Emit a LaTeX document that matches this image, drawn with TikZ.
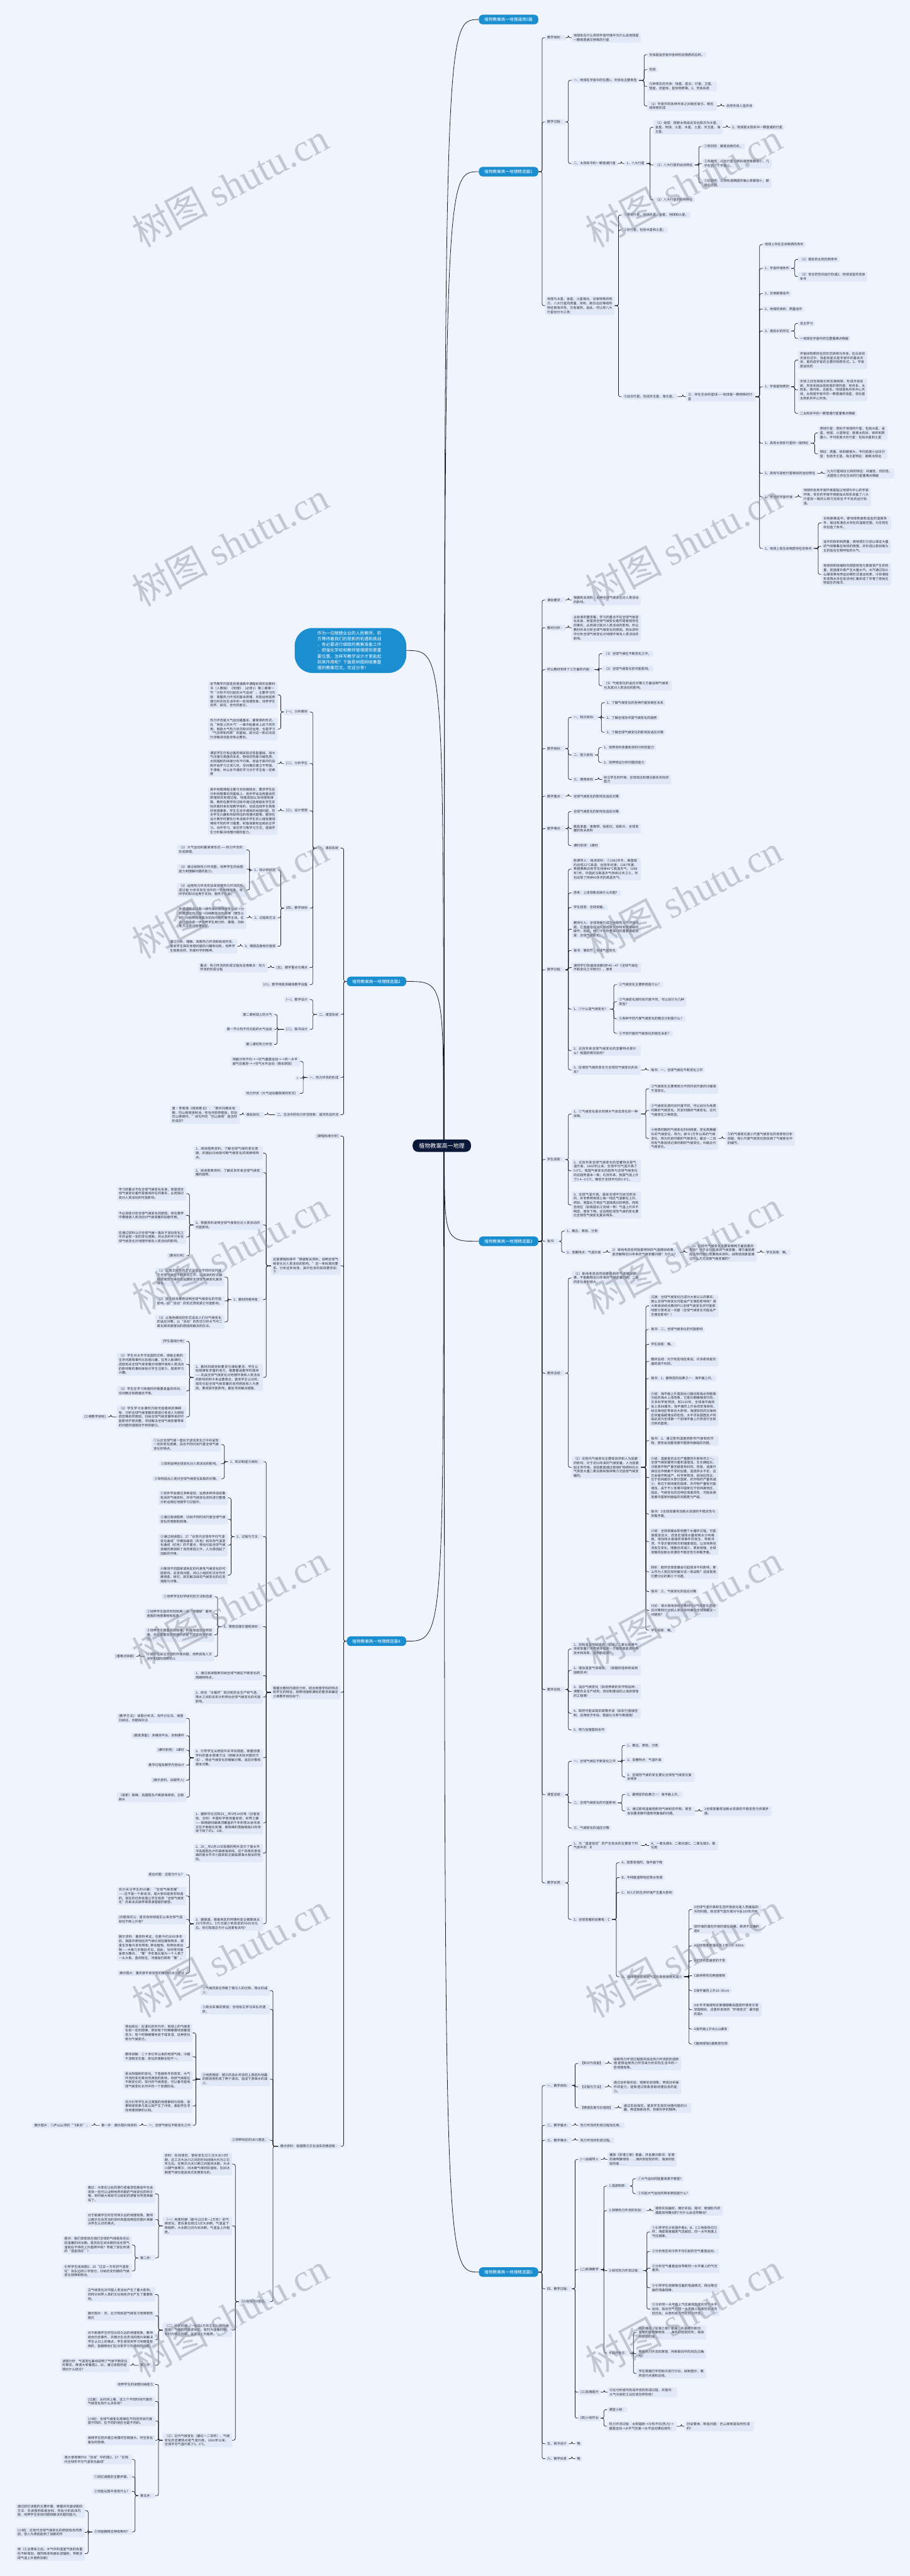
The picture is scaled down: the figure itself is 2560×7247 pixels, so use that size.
\documentclass[tikz,border=0pt]{standalone}
\usepackage{fontspec}
\setmainfont{Noto Sans CJK SC}
\newfontfamily\wmserif{Liberation Serif}
\XeTeXlinebreaklocale "zh"
\XeTeXlinebreakskip=0pt plus 1pt
\pgfdeclarelayer{bg}
\pgfsetlayers{bg,main}
\definecolor{pagebg}{RGB}{239,244,253}
\definecolor{boxbg}{RGB}{225,233,248}
\definecolor{txt}{RGB}{45,45,50}
\definecolor{lineC}{RGB}{28,28,40}
\definecolor{blueN}{RGB}{27,142,208}
\definecolor{navy}{RGB}{12,24,56}
\definecolor{wmc}{RGB}{140,145,156}
\tikzset{
  nb/.style={fill=boxbg, rounded corners=3pt, text=txt, font=\fontsize{9.1}{12}\selectfont, inner xsep=5.5pt, inner ysep=3.6pt, align=left},
  nw/.style={nb, text width=184pt},
  conn/.style={draw=lineC, line width=1.3pt, rounded corners=5pt},
  curve/.style={draw=lineC, line width=1.4pt},
  lone/.style={fill=blueN, text=white, rounded corners=11pt, font=\fontsize{11.7}{14}\selectfont, inner xsep=16pt, inner ysep=8pt},
  hub/.style={fill=navy, text=white, rounded corners=15pt, font=\fontsize{16}{18}\selectfont, inner xsep=18pt, inner ysep=10pt},
  intro/.style={fill=blueN, text=white, rounded corners=50pt, font=\fontsize{12}{16.2}\selectfont, text width=186pt, align=left, inner xsep=64pt, inner ysep=9pt},
  wm/.style={text=wmc, opacity=0.45, rotate=28, font=\fontsize{108}{112}\selectfont}
}
\makeatletter
\newcommand\conns{}
\newcommand\addconn[1]{\g@addto@macro\conns{#1}}
\makeatother
\newcommand\qR[5]{%
  \node[nb,anchor=west] (#1) at (#3,-#4) {#5};%
  \addconn{\path (#1.west) ++(-9,0) coordinate (sp); \draw[conn] (#2.east) -- (sp |- #2.east) |- (#1.west);}}
\newcommand\qRw[5]{%
  \node[nw,anchor=west] (#1) at (#3,-#4) {#5};%
  \addconn{\path (#1.west) ++(-9,0) coordinate (sp); \draw[conn] (#2.east) -- (sp |- #2.east) |- (#1.west);}}
\newcommand\qL[5]{%
  \node[nb,anchor=east] (#1) at (#3,-#4) {#5};%
  \addconn{\path (#1.east) ++(9,0) coordinate (sp); \draw[conn] (#2.west) -- (sp |- #2.west) |- (#1.east);}}
\newcommand\qLw[5]{%
  \node[nw,anchor=east] (#1) at (#3,-#4) {#5};%
  \addconn{\path (#1.east) ++(9,0) coordinate (sp); \draw[conn] (#2.west) -- (sp |- #2.west) |- (#1.east);}}
\begin{document}
\begin{tikzpicture}[x=1pt,y=1pt]
\useasboundingbox (0,0) rectangle (2560,-7247);
% hub and first level
\node[hub] (C) at (1243,-3223) {植物教案高一地理};
\node[lone,anchor=west] (T0) at (1347,-55) {植物教案高一地理通用5篇};
\node[lone,anchor=west] (T1) at (1347,-483) {植物教案高一地理精选篇1};
\node[lone,anchor=west] (T3) at (1347,-3492) {植物教案高一地理精选篇3};
\node[lone,anchor=west] (T5) at (1347,-6392) {植物教案高一地理精选篇5};
\node[lone,anchor=east] (T2) at (1143,-2761) {植物教案高一地理精选篇2};
\node[lone,anchor=east] (T4) at (1143,-4617) {植物教案高一地理精选篇4};
\node[intro] (I) at (986,-1830) {作为一位兢兢业业的人民教师，前\\方等待着我们的是新的机遇和挑战\\，有必要进行细致的教案准备工作\\，把强化学校和教师管理提到更重\\要位置。怎样写教学设计才更能起\\到其作用呢？下面是树图网收集整\\理的教案范文。欢迎分享！};
% ===== branch 1 =====
\qR{a1}{T1}{1534}{106}{教学目标：}
\qRw{a1a}{a1}{1608}{106}{地球处在什么样的宇宙环境中为什么说地球是一颗既普通又特殊的行星}
\qR{a2}{T1}{1534}{343}{教学过程：}
\qR{a2a}{a2}{1608}{226}{一、地球在宇宙中的位置1、天体及主要类型}
\qR{a2a1}{a2a}{1821}{154}{天体是指宇宙中各种形态物质的总称。}
\qR{a2a2}{a2a}{1821}{196}{包括}
\qRw{a2a3}{a2a}{1821}{243}{几种常见的天体：恒星、星云、行星、卫星、彗星、流星体、星际物质等。2、天体系统}
\qRw{a2a4}{a2a}{1821}{298}{（1）宇宙中的各种天体之间相互吸引、相互绕转而形成}
\qR{a2a4a}{a2a4}{2038}{298}{自然天体人造天体}
\qR{a2b}{a2}{1608}{460}{二、太阳系中的一颗普通行星}
\qR{a2b1}{a2b}{1757}{460}{1、八大行星}
\qRw{a2b1a}{a2b1}{1838}{358}{（1）组成：按距太阳由近及远依次为水星、金星、地球、火星、木星、土星、天王星、海王星。}
\qR{a2b1a1}{a2b1a}{2054}{358}{2、地球是太阳系中一颗普通的行星}
\qR{a2b1b}{a2b1}{1838}{464}{（1）八大行星的运动特征}
\qR{a2b1b1}{a2b1b}{1975}{412}{①同向性：都是自西向东。}
\qRw{a2b1b2}{a2b1b}{1975}{460}{②共面性：八大行星公转轨道倾角都很小，几乎在同一个平面上。}
\qRw{a2b1b3}{a2b1b}{1975}{515}{③近圆性：公转轨道椭圆的偏心率都很小，都接近正圆。}
\qR{a2b1c}{a2b1}{1838}{562}{（2）八大行星的结构特征}
\qRw{a3}{T1}{1534}{860}{地球与水星、金星、火星相比，没有特殊的地方。八大行星的质量、体积、距日远近等结构特征既有共性，又有差异。由此，可以将八大行星划分为三类：}
\qR{a31}{a3}{1749}{605}{①类地行星，包括水星、金星、地球和火星；}
\qR{a32}{a3}{1749}{647}{②巨行星，包括木星和土星；}
\qR{a33}{a3}{1749}{1116}{③远日行星，包括天王星、海王星。}
\qRw{a4}{a33}{1930}{1116}{三、存在生命的星球——地球是一颗特殊的行星}
\qR{a41}{a4}{2146}{688}{地球上存在生命物质的条件}
\qR{a42}{a4}{2146}{755}{1、宇宙环境条件}
\qR{a421}{a42}{2245}{730}{（1）稳定的太阳光照条件}
\qRw{a422}{a42}{2245}{778}{（2）安全的空间运行轨道2、地球适宜的自身条件}
\qR{a43}{a4}{2146}{826}{1、日地距离适中}
\qR{a44}{a4}{2146}{869}{2、地球的体积、质量适中}
\qR{a45}{a4}{2146}{931}{3、液态水的存在}
\qR{a451}{a45}{2245}{910}{自主学习}
\qR{a452}{a45}{2245}{952}{一地球在宇宙中的位置重难点释疑}
\qR{a46}{a4}{2146}{1088}{1、宇宙是物质的}
\qRw{a461}{a46}{2245}{1013}{宇宙间物质存在的形式统称为天体。在众多的天体形式中，恒星和星云是宇宙中的基本天体，是构成宇宙的主要的物质形式。2、宇宙是运动的}
\qRw{a462}{a46}{2245}{1097}{天体之间互相吸引和互相绕转，形成天体系统。天体系统由低到高的排列是：地月系、太阳系、银河系、总星系。地球是地月系中心天体、太阳是宇宙中的一颗普通的恒星，但也是太阳系的中心天体。}
\qR{a463}{a46}{2245}{1163}{二太阳系中的一颗普通行星重难点释疑}
\qR{a47}{a4}{2146}{1247}{1、具有太阳系行星的一般特征}
\qRw{a471}{a47}{2301}{1218}{类地行星：类似于地球的行星，包括水星、金星、地球、火星特征：距离太阳近、体积和质量小、平均密度大巨行星：包括木星和土星}
\qRw{a472}{a47}{2301}{1277}{特征：质量、体积都很大，平均密度小远日行星：包括天王星、海王星特征：距离太阳远}
\qR{a48}{a4}{2146}{1332}{2、具有与其他行星相似的运动特征}
\qRw{a481}{a48}{2321}{1332}{九大行星绕日公转的特征：共面性、同向性、近圆性三存在生命的行星重难点释疑}
\qR{a49}{a4}{2146}{1398}{1、安全的宇宙环境}
\qRw{a491}{a49}{2255}{1398}{地球所处地宇宙环境是指以地球为中心的宇宙环境，安全的宇宙环境是指太阳系具备了八大行星有一致的公转方向和互不干扰的运行轨道。}
\qR{a4a}{a4}{2146}{1543}{2、地球上有生命物质存在的条件}
\qRw{a4a1}{a4a}{2311}{1471}{日地距离适中，使地球表面有适宜的温度条件，保证有液态水存在的温度范围，为生物生存创造了条件。}
\qRw{a4a2}{a4a}{2311}{1537}{适中的体积和质量，使地球引力足以保证大量的气体聚集在地球的周围，并形成以氮和氧为主的适合生物呼吸的大气。}
\qRw{a4a3}{a4a}{2311}{1616}{地球体积收缩和内部放射性元素衰变产生的热量，因温度升高产生大量水汽，水汽通过如火山爆发等地壳运动等形式逸出地表，冷却凝结形成降水并在低洼地汇集形成了孕育了原始生物诞生的海洋。}
% ===== branch 3 =====
\qR{b1}{T3}{1534}{1688}{课标要求：}
\qRw{b11}{b1}{1608}{1688}{根据有关资料，说明全球气候变化对人类活动的影响。}
\qR{b2}{T3}{1534}{1766}{教材分析：}
\qRw{b21}{b2}{1608}{1766}{从标准的要求看，学习的重点不在全球气候变化本身，而是把全球气候变化看作是客观存在的事实，从而探讨其对人类活动的影响。所以教材并未分析全球气候变化的原因，而从资料中分析全球气候变化对地理环境及人类活动的影响。}
\qR{b3}{T3}{1534}{1884}{所以教材安排了三方面的内容：}
\qR{b31}{b3}{1694}{1839}{（1）全球气候在不断变化之中。}
\qR{b32}{b3}{1694}{1881}{（2）全球气候变化的可能影响。}
\qRw{b33}{b3}{1694}{1929}{（3）气候变化的适应对策三方面说明气候变化及其对人类活动的影响。}
\qR{b4}{T3}{1534}{2106}{教学目标：}
\qR{b41}{b4}{1608}{2018}{一、知识目标：}
\qR{b411}{b41}{1701}{1977}{1、了解气候变化的各种尺度及相互关系}
\qR{b412}{b41}{1701}{2019}{2、了解全球及中国气候变化的趋势}
\qR{b413}{b41}{1701}{2060}{3、了解全球气候变化的影响及适应对策}
\qR{b42}{b4}{1608}{2124}{二、能力目标}
\qR{b421}{b42}{1693}{2103}{1、培养资料收集和资料分析的能力}
\qR{b422}{b42}{1693}{2145}{2、培养辨证分析问题的能力}
\qR{b43}{b4}{1608}{2193}{三、德育目标}
\qRw{b431}{b43}{1693}{2193}{树立学生的环境、全球观念和理论联系实际的能力}
\qR{b5}{T3}{1534}{2240}{教学重点：}
\qR{b51}{b5}{1608}{2240}{全球气候变化的影响及适应对策}
\qR{b6}{T3}{1534}{2331}{教学难点：}
\qR{b61}{b6}{1608}{2283}{全球气候变化的影响及适应对策}
\qRw{b62}{b6}{1608}{2331}{教具准备：录像带、投影仪、投影片、全球变暖的有关资料}
\qR{b63}{b6}{1608}{2379}{课时安排：1课时}
\qR{b7}{T3}{1534}{2728}{教学过程：}
\qRw{b71}{b7}{1608}{2445}{新课导入：阅读资料：①1982年冬，美国纽约出现22℃高温，创百年纪录；1987年夏，希腊雅典出现罕见持续46℃高温天气；1988年7月，中国武汉高温天气持续25天之久，年也出现了持续40多天的高温天气。}
\qR{b72}{b7}{1608}{2512}{思考：上述现象反映什么问题？}
\qR{b73}{b7}{1608}{2553}{学生回答：全球变暖。}
\qRw{b74}{b7}{1608}{2614}{教师引入：全球变暖已成为全球性大气环境问题，它直接造成对人类社会生存和发展基础的破坏。因此，我们今天所要探讨的重要课题就是：全球气候变化。}
\qR{b75}{b7}{1608}{2674}{板书：第四节：全球气候变化}
\qRw{b76}{b7}{1608}{2722}{请同学们快速阅读教材P46—47《全球气候在不断变化之中部分》，思考}
\qR{b77}{b7}{1608}{2839}{1、①什么是气候变化？}
\qR{b771}{b77}{1736}{2770}{②气候变化主要表现是什么？}
\qRw{b772}{b77}{1736}{2818}{③气候变化按时间尺度不同，可以划分为几种类型？}
\qR{b773}{b77}{1736}{2866}{④各种不同尺度气候变化的概念分别是什么？}
\qR{b774}{b77}{1736}{2907}{⑤不同尺度的气候变化的相互关系？}
\qRw{b78}{b7}{1608}{2956}{2、近百年来全球气候变化的显著特点是什么？我国的情况如何？}
\qRw{b79}{b7}{1608}{3010}{3、区域性气候的变化与全球性气候变化的关系？}
\qR{b791}{b79}{1826}{3010}{板书：一、全球气候在不断变化之中}
\qR{b8}{T3}{1534}{3262}{学生回答：}
\qRw{b81}{b8}{1608}{3134}{1、①气候变化是长时期大气状态变化的一种反映。}
\qRw{b811}{b81}{1826}{3063}{②气候变化主要表现为不同时间尺度的冷暖或干湿变化。}
\qRw{b812}{b81}{1826}{3124}{③气候变化按时间尺度不同，可以划分为地质时期的气候变化、历史时期的气候变化、近代气候变化三种类型。}
\qRw{b813}{b81}{1826}{3203}{④地质时期的气候变化时间跨度，变化周期最长的气候变化，称为；距今1万年以来的气候变化，称为历史时期的气候变化；最近一二百年有气象观测记录时期的气候变化，叫做近代气候变化。}
\qRw{b8131}{b813}{2041}{3203}{⑤的气候变化是小尺度气候变化的背景和分析依据，而小尺度气候变化则反映了气候变化中的细节。}
\qRw{b82}{b8}{1608}{3294}{2、近百年来全球气候变化的显著特点是气温升高，1860年以来，全球平均气温升高了0.6℃。我国气候变化的趋势与全球气候变化的总趋势基本一致；近百年来，我国气温上升了0.4—0.5℃，略低于全球平均的0.6℃。}
\qRw{b83}{b8}{1608}{3390}{3、全球气温升高，是就全球平均状况而言的，并非表明地球上每一地区气温都在上升。例如，我国北方地区气温增高比较明显，而有些地区（如我国长江流域一带）气温上升并不明显，甚至下降。这说明区域性气候的变化要比全球性气候变化复杂得多。}
\qR{b9}{T3}{1534}{3492}{板书：}
\qR{b91}{b9}{1589}{3463}{1、概念、表现、分类}
\qR{b92}{b9}{1589}{3523}{2、显著特点：气温升高}
\qRw{b921}{b92}{1717}{3523}{1）单纯考虑自然因素得到的气温模拟结果，能否解释近50年来的气候变暖问题？为什么？}
\qRw{b922}{b921}{1934}{3523}{（2）近现代气候变化主要受哪两方面因素的影响？对于近50年来的气候变暖，哪方面因素起主导作用？收集相关资料，说明该因素是通过什么方式促使气候变暖的？}
\qR{b923}{b922}{2150}{3523}{学生回答：略。}
\qR{ba}{T3}{1534}{3863}{教师总结：}
\qRw{ba1}{ba}{1608}{3595}{（1）单纯考虑自然因素得到的气温模拟结果，不能解释近50年来的气候变暖问题。二者的变化差别很大。}
\qRw{ba2}{ba}{1608}{4128}{（2）近现代气候变化主要受自然和人为因素的影响；对于近50年来的气候变暖，人为因素起主导作用。该因素是通过燃烧矿物燃料向大气排放大量二氧化碳和毁林等方式促使气候变暖的。}
\qRw{ba21}{ba2}{1826}{3674}{过渡：全球气候变化已成为大家公认的事实，那么全球气候变化可能会产生哪些影响呢？请大家阅读结合教材P51全球气候变化的可能影响部分思考这一问题（全球气候变化可能会产生哪些影响？）}
\qR{ba22}{ba2}{1826}{3740}{板书：二、全球气候变化的可能影响}
\qR{ba23}{ba2}{1826}{3782}{学生回答：略。}
\qRw{ba24}{ba2}{1826}{3830}{教师总结：对于有些地区来说，许多影响是负面的或不利的。}
\qR{ba25}{ba2}{1826}{3878}{板书：1、最明显的后果之一：海平面上升。}
\qRw{ba26}{ba2}{1826}{3963}{介绍：海平面上升是因冰川融化和海水热膨胀引起的海水上涨现象，它是长期缓慢进行的。许多科学家预测，到2100年，全球海平面将会上涨88厘米，海平面的上升会改变海岸线，给沿海地区带来巨大影响，海拔较低的沿海地区将面临被淹没的危险。太平洋岛国图瓦卢将由此成为全球第一个因海平面上升而进行全民迁移的国家。}
\qRw{ba27}{ba2}{1826}{4053}{板书：2、通过影响温度而影响气候和农作物，甚至会加重发展中国家所面临的问题。}
\qRw{ba28}{ba2}{1826}{4157}{介绍：温度是农业生产重要的外部条件之一。全球气候变暖预示着积温增加，生长期延长，对提高作物产量无疑是有利的。但是，温度升高往往伴随着干旱的加重，造成供水不足，这又会使作物减产。科学家预测，就地区而言，位于低纬度的大部分国家，农作物的产量将减少；而位于高纬度的国家，农作物产量有可能增加，由于不少发展中国家位于低纬度地区，因此，气候变化的这种区域差异性，可能会使发展中国家所面临的问题更为严峻。}
\qRw{ba29}{ba2}{1826}{4259}{板书：3全球变暖将加剧水资源的不稳定性与供需矛盾。}
\qRw{ba2a}{ba2}{1826}{4337}{介绍：全球变暖会影响整个水循环过程，可能使蒸发加大，改变区域降水量和降水分布格局，增加降水极端异常事件的发生，导致洪涝、干旱灾害的频次和强度增加，以及地表径流发生变化。随着径流减少，蒸发增强，全球变暖将加剧水资源的不稳定性与供需矛盾。}
\qRw{ba2b}{ba2}{1826}{4422}{转折：既然全球变暖会引起很多不利影响，那么作为人类应如何面对这一挑战呢？这就是我们要讨论的第三个问题。}
\qR{ba2c}{ba2}{1826}{4477}{板书：三、气候变化的适应对策}
\qRw{ba2d}{ba2}{1826}{4530}{讨论：请大家阅读结合教材P53气候变化的适应对策部分讨论人类应如何面对全球变暖这一问题呢？}
\qR{ba2e}{ba2}{1826}{4586}{学生回答：略。}
\qR{bb}{T3}{1534}{4753}{教师总结：}
\qRw{bb1}{bb}{1608}{4639}{1、控制温室气体排放（如减少二氧化碳等气体排放量，世界很多国家一方面提高能源利用技术和效率，采用新能源）}
\qRw{bb2}{bb}{1608}{4699}{2、增加温室气体吸收。（如植树造林和采用固碳技术）}
\qRw{bb3}{bb}{1608}{4759}{3、适应气候变化（如培养新的农作物品种，调整农业生产结构，规划和建设防止海岸侵蚀的工程等）}
\qRw{bb4}{bb}{1608}{4820}{4、政府可能采取的政策手段（如实行直接控制、应用经济手段、鼓励公众参与等措施）}
\qR{bb5}{bb}{1608}{4867}{5、努力加强国际合作}
\qR{bc}{T3}{1534}{5049}{课堂总结：}
\qR{bc1}{bc}{1608}{4955}{一、全球气候在不断变化之中}
\qR{bc11}{bc1}{1759}{4910}{1、概念、表现、分类}
\qR{bc12}{bc1}{1759}{4952}{2、显著特点：气温升高}
\qRw{bc13}{bc1}{1759}{4999}{3、区域性气候的变化要比全球性气候变化复杂得多}
\qR{bc2}{bc}{1608}{5072}{二、全球气候变化的可能影响}
\qR{bc21}{bc2}{1759}{5048}{1、最明显的后果之一：海平面上升。}
\qRw{bc22}{bc2}{1759}{5095}{2、通过影响温度而影响气候和农作物，甚至会加重发展中国家所面临的问题。}
\qRw{bc221}{bc22}{1976}{5095}{3全球变暖将加剧水资源的不稳定性与供需矛盾。}
\qR{bc3}{bc}{1608}{5143}{三、气候变化的适应对策}
\qR{bd}{T3}{1534}{5297}{教学反馈：}
\qRw{bd1}{bd}{1608}{5192}{1、与“温室效应”的产生有关的主要是下列气体中的：B}
\qRw{bd11}{bd1}{1826}{5192}{A、一氧化碳B、二氧化碳C、二氧化硫D、氧化氮}
\qR{bd2}{bd}{1608}{5400}{2、全球变暖的后果有：C}
\qR{bd21}{bd2}{1743}{5240}{A、因蒸发强烈，海平面下降}
\qR{bd22}{bd2}{1743}{5282}{B、中纬度温带地区降水倍增}
\qR{bd23}{bd2}{1743}{5324}{C、对人们的生存环境产生重大影响}
\qR{bd24}{bd2}{1743}{5561}{D、高纬度地区会因气温升高而使降水减少}
\qRw{bd241}{bd24}{1947}{5372}{3全球气温升高和生态环境恶化是人类面临的共同问题，就全球气温升高对今后100年内地}
\qRw{bd242}{bd24}{1947}{5426}{球环境的潜在环境的潜在后果，表述不正确的是B}
\qR{bd243}{bd24}{1947}{5474}{A山地雪度等温线将上移150\textasciitilde 500m}
\qR{bd244}{bd24}{1947}{5516}{B全球将普遍变的干旱}
\qR{bd245}{bd24}{1947}{5558}{C森林带将向两极推移}
\qR{bd246}{bd24}{1947}{5600}{D海平面将上升10\textasciitilde 95cm}
\qRw{bd247}{bd24}{1947}{5654}{4太平洋海域附近某珊瑚礁岛国因环境变迁将举国移民，这里所讲述的“环境变迁”最可能的是A}
\qR{bd248}{bd24}{1947}{5708}{A海平面上升B火山爆发}
\qR{bd249}{bd24}{1947}{5750}{C酸雨侵蚀D臭氧层空洞}
% ===== branch 5 =====
\qR{c1}{T5}{1534}{5867}{一、教学目标：}
\qR{c11}{c1}{1627}{5805}{【知识与技能】}
\qRw{c111}{c11}{1721}{5805}{绘制热力环流过程图并说出热力环流的形成原理.能够运用热力环流来分析实际生活中的一些地理现象。}
\qR{c12}{c1}{1627}{5871}{【过程与方法】}
\qRw{c121}{c12}{1721}{5871}{通过动手做实验，观察实验现象，养成动手操作的能力，能够透过现象获取地理信息的能力。}
\qR{c13}{c1}{1627}{5930}{【情感态度与价值观】}
\qRw{c131}{c13}{1749}{5930}{通过实验探究，激发学生探究地理问题的兴趣，养成探索自然、热爱科学的精神。}
\qR{c2}{T5}{1534}{5979}{二、教学重点：}
\qR{c21}{c2}{1627}{5979}{热力环流的形成过程及应用。}
\qR{c3}{T5}{1534}{6021}{三、教学难点：}
\qR{c31}{c3}{1627}{6021}{热力环流的形成过程。}
\qR{c4}{T5}{1534}{6439}{四、教学过程：}
\qR{c41}{c4}{1627}{6075}{(一)设疑导入}
\qRw{c411}{c41}{1709}{6075}{播放《军港之夜》歌曲，并且展示歌词：军港的夜啊静悄悄……海风你轻轻的吹，海浪你轻轻的摇……}
\qR{c42}{c4}{1627}{6385}{(二)新课教学}
\qR{c421}{c42}{1708}{6150}{1.温故知新：}
\qR{c4211}{c421}{1789}{6129}{①大气运动的能量来源于哪里?}
\qR{c4212}{c421}{1789}{6171}{②引起大气运动的根本原因是什么?}
\qR{c422}{c42}{1708}{6219}{2.观察热力环流的实验：}
\qRw{c4221}{c422}{1838}{6219}{提供实验器材，展示实验。提问：玻璃缸内的烟是如何飘动的?为什么会这样飘动?}
\qR{c423}{c42}{1708}{6388}{3.探究热力环流过程：}
\qRw{c4231}{c423}{1829}{6279}{①引导学生分析图中若A、B、C三地受热均匀时，海拔高度越高气压越低，同一水平高度上气压相等。}
\qR{c4232}{c423}{1829}{6334}{②分析地区间冷热不均引起的空气垂直运动。}
\qRw{c4233}{c423}{1829}{6381}{③分析空气垂直运动导致同一水平面上的气压差异。}
\qRw{c4234}{c423}{1829}{6436}{④引导学生观察等压面的弯曲情况，得出等压面的弯曲规律。}
\qRw{c4235}{c423}{1829}{6496}{⑤分析同一水平面上气压差异形成的空气水平运动，指出空气在同一水平面上由高压处流向低压处。从而形成大气的热力环流。}
\qR{c424}{c42}{1708}{6620}{4.揭开悬念：}
\qRw{c4241}{c424}{1791}{6562}{再次播放《军港之夜》歌曲，并且展示歌词：军港的夜啊静悄悄……海风你轻轻的吹，海浪你轻轻的摇……}
\qRw{c4242}{c424}{1791}{6622}{根据热力环流的原理，判断歌词中的风向正确吗?}
\qRw{c4243}{c424}{1791}{6677}{学生根据已学的知识进行讨论，绘制图示，教师进行点拨和总结。}
\qR{c43}{c4}{1627}{6730}{(三)拓展提升}
\qRw{c431}{c43}{1709}{6730}{讨论分析城市热岛环流的形成过程，并提问：大气污染的工业应该怎样布局?}
\qR{c44}{c4}{1627}{6803}{(四)小结作业}
\qR{c441}{c44}{1708}{6779}{课堂小结：}
\qRw{c442}{c44}{1708}{6826}{热力环流过程：太阳辐射→冷热不均(热力)→垂直运动→水平气压差→水平运动课后探究：}
\qRw{c4421}{c442}{1926}{6826}{创设情境，制造问题：巴山夜雨是如何形成的?}
\qR{c5}{T5}{1534}{6875}{五、板书设计}
\qR{c51}{c5}{1618}{6875}{略}
\qR{c6}{T5}{1534}{6917}{六、教学反思}
\qR{c61}{c6}{1618}{6917}{略}
% ===== branch 2 =====
\qL{d1}{T2}{958}{2386}{一、课前系统}
\qL{d11}{d1}{871}{2003}{(一)、分析教材}
\qLw{d111}{d11}{781}{1955}{本节教学内容选自普通高中课程标准实验教科书（人教版）《地理》（必修1）第二章第一节“冷热不均引起的大气运动”。主要学习内容：掌握热力环流的基本原理，并能运用其原理分析实际生活中的一些地理现象；培养学生自学、探究、合作的意识。}
\qLw{d112}{d11}{781}{2051}{热力环流是大气运动最基本、最简单的形式，在“地球上的大气”一章中起着承上启下的作用，既是大气热力状况知识的运用，也是学习“气压带和风带”的基础，故对这一知识点进行详细讲述是非常必要的。}
\qL{d12}{d1}{871}{2148}{(二)、分析学生}
\qLw{d121}{d12}{781}{2148}{课前学生已有必备的相关知识技能基础，如大气压强与高度的关系，物体的热胀冷缩性质，太阳辐射的纬度分布不均等。但由于高中阶段刚开始学习立体几何，空间概念建立不牢固，不清晰，所以本节课的学习对于学生有一定难度}
\qL{d13}{d1}{871}{2281}{(三)、设计思想}
\qLw{d131}{d13}{781}{2281}{高中地理课程注重与实际相结合，要求学生在分析地理事实的基础上，逐步学会运用基本的原理探究地理过程、地理成因以及地理规律等。教师在教学的过程中通过选用联系学生实际的素材来实现教学目的，包括选择学生熟悉的地理事象，学生生活中遇到的地理问题，符合学生兴趣和年龄特征的地理问题等。教师在设计教学时要充分考虑高中学生的心理发展规律和不同的学习需要，积极探索和运用自主学习、合作学习、探究学习等学习方式，提高学生分析解决地理问题的能力。}
\qL{d14}{d1}{871}{2555}{(四)、教学目标}
\qL{d141}{d14}{781}{2448}{1、知识和技能}
\qLw{d1411}{d141}{693}{2391}{（1）大气运动的最简单形式——热力环流的形成原理。}
\qLw{d1412}{d141}{693}{2445}{（2）通过绘制热力环流图，培养学生的绘图能力和理解问题的能力。}
\qLw{d1413}{d141}{693}{2504}{（3）运用热力环流实验来观察热力环流的形成过程.分析实际生活中的一些地理现象，将所学的知识运用于实际，服务于社会。}
\qL{d142}{d14}{781}{2582}{2、过程和方法}
\qLw{d1421}{d142}{693}{2582}{本课遵循由问题→课件演示获得感性认识→分析推理运动过程→归纳概括运动规律（理性认识）→应用规律解决实际问题的教学主线，在此过程中进一步培养学生用分析、推理、归纳等方法学习地理知识。}
\qL{d143}{d14}{781}{2662}{3、情感态度和价值观}
\qLw{d1431}{d143}{668}{2662}{通过分析、理解、观察热力环流和局地环流，激发学生探究地理问题的兴趣和动机，培养学生探索自然、热爱科学的精神。}
\qL{d15}{d1}{871}{2722}{(五)、教学重点与难点}
\qLw{d151}{d15}{753}{2722}{重点：热力环流的形成过程及应用难点：热力环流的形成过程}
\qL{d16}{d1}{871}{2770}{(六)、教学用具多媒体教学设备}
\qL{d2}{T2}{958}{2854}{二、课堂系统}
\qL{d21}{d2}{871}{2812}{(一)、教学设计}
\qL{d22}{d2}{871}{2896}{(二)、板书设计}
\qL{d221}{d22}{771}{2854}{第二章地球上的大气}
\qL{d222}{d22}{771}{2896}{第一节冷热不均引起的大气运动}
\qL{d223}{d22}{771}{2938}{第二课时热力环流}
\qL{d3}{T2}{958}{3031}{一、热力环流的形成}
\qLw{d31}{d3}{844}{2986}{地面冷热不均→→空气垂直运动→→同一水平面气压差异→→空气水平运动（根本原因）}
\qL{d32}{d3}{844}{3033}{I}
\qL{d33}{d3}{844}{3076}{热力环流（大气运动最简单的形式）}
\qL{d4}{T2}{958}{3136}{二、生活中的热力环流现象：城市热岛环流}
\qL{d41}{d4}{744}{3136}{课后探究：}
\qLw{d411}{d41}{674}{3136}{唐·李商隐《夜雨寄北》：“君问归期未有期，巴山夜雨涨秋池。何当共剪西窗烛，却话巴山夜雨时。”诗句中的“巴山夜雨”是怎样形成的？}
% ===== branch 4 =====
\qL{e1}{T4}{958}{3196}{[课程标准分析]}
\qLw{e2}{T4}{958}{3561}{这是课程标准中“根据有关资料，说明全球气候变化对人类活动的影响。”这一条标准的要求。分析这条标准，其中包含的具体要求如下：}
\qLw{e21}{e2}{740}{3244}{1、阅读图表资料，了解全球气候的变化周期，并据此归纳各时期气候变化的规律和特点。}
\qLw{e22}{e2}{740}{3299}{2、阅读图表资料，了解近百年来全球气候变暖的趋势。}
\qLw{e23}{e2}{740}{3446}{3、根据资料说明全球气候变化对人类活动的可能影响。}
\qLw{e231}{e23}{524}{3358}{学习的重点不在全球气候变化本身，而是把全球气候变化看作是客观存在的事实，从而探讨其对人类活动的可能影响。}
\qLw{e232}{e23}{524}{3419}{不必具体分析全球气候变化的原因，但在教学中要强调人类活动对气候变暖的加剧作用。}
\qLw{e233}{e23}{524}{3480}{应通过资料认识全球气候一直处于波动变化之中并呈现一定的变化周期。并从资料中分析全球气候变化对地理环境及人类活动的影响。}
\qL{e234}{e23}{524}{3533}{[教材分析]}
\qL{e24}{e2}{740}{3656}{1、教材的顺序是：}
\qLw{e241}{e24}{632}{3593}{（1）以图文结合的方式呈现出不同时间尺度下全球气候在不断变化之中，以阅读的形式解释区域性气候的变化要比全球性气候变化复杂得多。}
\qLw{e242}{e24}{632}{3660}{（2）图文结合案例说明全球气候变化的可能影响。以“活动”的形式预测其它可能影响。}
\qLw{e243}{e24}{632}{3719}{（3）以角色模拟的形式说出人们对气候变化的适应对策。以“活动”的形式分析大气中二氧化碳浓度增加的原因和解决的办法。}
\qLw{e25}{e2}{740}{3875}{2、教材的顺序和要求与课标要求，学生认知规律有矛盾的地方，需要重组教学的顺序——先由全球气候变化对地理环境和人类活动的影响的例子来设置悬念，激发学生认识的，探究引起全球气候变暖的自然原因和人为原因，推测其可能影响，最后寻找解决措施。}
\qL{e251}{e25}{524}{3774}{[学生基础分析]}
\qLw{e252}{e25}{524}{3838}{（1）学生对太平洋岛国的迁移、南极企鹅的生存问题等事件比较感兴趣，在导入新课时，选取有关全球气候变暖对地理环境和人类活动的影响等的事例来吸引学生注意力，提高学习兴趣。}
\qLw{e253}{e25}{524}{3913}{（2）学生在学习地理时所需要具备的时间、空间概念和跨度还不够。}
\qLw{e254}{e25}{524}{3986}{（3）学生学习本课时内容可能遇到的障碍有：分析全球气候变暖的原因只考虑人为原因而忽略自然原因，归纳全球气候变暖带来的可能影响不够完整，寻找解决全球气候变暖带来的问题的措施找不到突破口。}
\qL{e2541}{e254}{303}{3986}{[三维教学目标]}
\qLw{e3}{T4}{958}{4761}{根据对教材内容的分析，结合地理学科的特点和学生的特征，按照地理新课标的要求来确定三维教学目标如下：}
\qL{e31}{e3}{740}{4112}{1、知识和能力目标：}
\qLw{e311}{e31}{622}{4064}{①认识全球气候一直处于波动变化之中并呈现一定的变化周期，说出不同时间尺度全球气候变化的特点。}
\qL{e312}{e31}{622}{4118}{②举例说明全球变化对人类活动的影响。}
\qL{e313}{e31}{622}{4160}{③举例说出人类对全球气候变化采取的对策。}
\qL{e32}{e3}{740}{4323}{2、过程与方法：}
\qLw{e321}{e32}{641}{4214}{①初步学会通过多种途径、运用多种手段收集有关的气候资料，并将气候变化资料进行整理分析运用在地理学习过程中。}
\qLw{e322}{e32}{641}{4274}{②通过阅读图表，归纳不同时间尺度全球气候变化的周期和规律。}
\qLw{e323}{e32}{641}{4347}{③通过阅读图2、27“近现代全球年平均气温变化曲线”中模拟曲线（灰色）和实际气温变化曲线（红色）的不重合，得出引起全球气候变暖的原因除了自然原因之外，人为原因起了加剧的作用。}
\qLw{e324}{e32}{641}{4431}{④推测不同国家或地区的代表性气候变化的可能影响，去发现问题，并以小组的形式合作开展调查、研究，探究解决目前气候变化的应变措施与对策。}
\qL{e33}{e3}{740}{4576}{3、情感态度价值观目标：}
\qL{e331}{e33}{603}{4492}{①培养学生科学研究的方法和态度}
\qLw{e332}{e33}{603}{4540}{②培养学生能时时刻刻用一双“地理眼”看待周围的地理事物和现象}
\qLw{e333}{e33}{603}{4599}{③培养学生尊重自然规律、积极地适应自然规律，并在尊重自然规律的前提下改造自然的观念。}
\qLw{e334}{e33}{603}{4660}{④使学生关注全球的环境问题，培养具有人文关怀和国际视野的人}
\qL{e3341}{e334}{383}{4660}{[重难点突破]}
\qLw{e34}{e3}{740}{4714}{1、通过阅读图表归纳全球气候在不断变化的周期和特点。}
\qLw{e35}{e3}{740}{4774}{2、结合“水循环”知识和农业生产和气温、降水之间的关系分析得出全球气候变化的可能影响。}
\qLw{e36}{e3}{740}{4945}{3、引导学生从原因中去寻找措施，掌握地理学科的基本思维方法（即解决实际问题的方法），得出气候变化的缓解对策、适应对策和根本对策。}
\qLw{e361}{e36}{524}{4834}{[教学方法]：读图分析法、合作讨论法、读图归纳法、问题探究法}
\qL{e362}{e36}{524}{4883}{[教具准备]：多媒体平台、自制课件}
\qL{e363}{e36}{524}{4924}{[课时安排]：1课时}
\qL{e364}{e36}{524}{4966}{教学过程及教学内容设计}
\qL{e365}{e36}{524}{5008}{[展示资料，设疑导入]}
\qLw{e366}{e36}{524}{5056}{（投影）珠峰、岛国图瓦卢美丽海岸线、企鹅照片}
\qLw{e37}{e3}{740}{5128}{1、据新华社沈阳20\_\_年9月14日电（记者张玫、沈科）中国科学家测量发现，世界之巅——珠穆朗玛峰峰顶覆盖的千年积雪30余年来正在不断融化变薄。使珠峰的雪面高程33年持续下降了约1、3米。}
\qLw{e38}{e3}{740}{5213}{2、20\_\_年2月19日拍摄的照片显示了南太平洋岛国图瓦卢的美丽海岸线。这个四季风景如画的南太平洋小国目前正面临被海水吞没的危险。}
\qLw{e39}{e3}{740}{5412}{3、据报道，南极地区的阿德利亚企鹅数目从1975年的1、5万对减少到目前的9000对左右，你们知道这与什么因素有关吗？}
\qL{e391}{e39}{524}{5274}{提出问题：这是为什么？}
\qLw{e392}{e39}{524}{5334}{充分关注学生的兴趣：“全球气候变暖”——这不是一个新名词，是大家似是而非知道的。现在的任务就是让学生有把“全球气候变化”的来龙去脉弄得清清楚楚的意愿。}
\qLw{e393}{e39}{524}{5400}{[问题探究1]：是否自地球诞生以来全球气温就在不断上升呢？}
\qLw{e394}{e39}{524}{5479}{展示资料：据资料考证，在距今约3000多年前，我国中原地区的气候比现在暖和得多，那里生存着许多热带和\_带动植物。热带标准动物——大象几乎随处可见，因此，当时得河南省称为豫州，“豫”字形象比喻为一个人牵了一头大象，直到现在，河南省仍简称“豫”。}
\qL{e395}{e39}{524}{5551}{展示图片：重庆梁平县发现的第四纪冰川遗址}
\qL{e4}{T4}{958}{6038}{展示资料：我国楼兰文化消失的原因有：}
\qLw{e41}{e4}{759}{5600}{①气候的变化导致了楼兰人的迁移，降水的减少；}
\qLw{e42}{e4}{759}{5653}{②政治军事的原因：当地有古罗马军队的遗民；}
\qLw{e43}{e4}{759}{5849}{③地质原因：楼兰的汲水河流的上游因为地震的原因而形成了两个湖泊，造成下游来水的减少。}
\qLw{e431}{e43}{542}{5719}{得出结论：在漫长的年代中，地球上的气候变化有一定的规律，例如有个时期缓慢地变暖或变冷；有个时期缓慢地变干或变湿，这种变化称为气候变迁。}
\qLw{e432}{e43}{542}{5786}{教师讲解：二十多亿年以来的地球气候，冷暖干湿相互交替，变化的周期长短不一。}
\qLw{e433}{e43}{542}{5852}{受太阳辐射的变化、下垫面条件的改变、大气环流的变化等自然原因的影响，地球气候是在不断变化的，现代的气候类型，可以看作是地球气候变化长河中的一个发展阶段。}
\qLw{e434}{e43}{542}{5925}{充分引导学生关注周围的地理事物与现象，该事物或现象与其认知产生了冲突，激起学生寻找地理规律的认知。}
\qL{e435}{e43}{542}{5979}{一、全球气候在不断变化之中}
\qL{e4351}{e435}{391}{5979}{第一步：展示图片和资料}
\qL{e43511}{e4351}{257}{5979}{展示图片：①庐山山顶的“飞来石”；}
\qL{e44}{e4}{759}{6021}{②热带地区的冰川遗迹；}
\qL{e45}{e4}{759}{6475}{③U型谷与V型谷。}
\qLw{e451}{e45}{653}{6088}{资料：在地球历，曾经发生过三次大冰川时期，这三次大冰川之间的时间间隔大约为三亿年左右。在两次大冰川期之间是间冰期。大冰川期气候寒冷，间冰期气候则较温和。在间冰期里气候也是波浪式发展变化的。}
\qLw{e452}{e45}{653}{6262}{（一）地质时期（距今22亿年—1万年）的气候变化，曾反复出现过3次大冰期，气温呈下降趋势；大冰期之间为间冰期，气温呈上升趋势。}
\qLw{e4521}{e452}{437}{6172}{建议：大家在以后的旅行或者游览路途中也会发现一些可以证明地质时期的气候变化的例子哦，到时候大家就可以给别的游客当导游来解说了。}
\qLw{e4522}{e452}{437}{6244}{对于距离学生时空非常久远的地理现象，教师以展示生动灵活的资料和直观典型的图片来解决学生认识的难点。}
\qL{e4523}{e452}{437}{6352}{第二步：}
\qLw{e45231}{e4523}{371}{6316}{提问：我们发现现在我们全球的气候是处在比较温暖的间冰期。是否处在间冰期的话全球气温就在不停的上升趋势中呢？导致了现在所谓的“温室效应”？}
\qLw{e45232}{e4523}{371}{6389}{引导学生阅读图2、25“过去一万年的气温变化”及右边的小字部分，归纳历史时期的气候变化规律和特点。}
\qLw{e453}{e45}{653}{6555}{（二）历史时期（一般指1万年左右）的气候变化，气候仍然是波动的，有时为温暖时期，有时为寒冷时期，呈波动上升趋势。}
\qLw{e4531}{e453}{437}{6455}{古气候变化对中国人类活动产生了重大影响，同样对世界人类的文化和经济也产生了重要影响。}
\qLw{e4532}{e453}{437}{6515}{展示图片：历，北方牧民因气候变冷而周期性南迁}
\qLw{e4533}{e453}{437}{6582}{对于距离学生时空比较久远的地理现象，教师结合历史事件，并展示生动灵活的图片来解决学生认识上的难点。学生感觉到学习地理是有用的，能解释他们在日常学习中遇到的问题。}
\qL{e4534}{e453}{437}{6654}{第三步：}
\qLw{e45341}{e4534}{365}{6654}{读图分析：气温变化曲线说明了气候不断变化的事实。再请大家看图2、26，通过读图你能得出什么结论？}
\qLw{e454}{e45}{653}{6865}{（三）近代气候变化（最近一二百年），气候变化的显著特点是气温升高，1860年以来，全球平均气温升高了0。6℃。}
\qL{e4541}{e454}{437}{6708}{培养学生的读图归纳能力}
\qLw{e4542}{e454}{437}{6756}{[过渡]：从时间上看，这三个不同时间尺度的气候变化有什么关系呢？}
\qLw{e4543}{e454}{437}{6811}{[小结]：全球气候变化规律在不同的时间尺度是不同的，在不同的地区也是不同的。}
\qLw{e4544}{e454}{437}{6865}{使得学生初步建立地理时空跨度大、时空变化复杂的思维。}
\qL{e4545}{e454}{437}{7021}{第五步：}
\qLw{e45451}{e4545}{371}{6919}{请大家观察P50“活动”中的图2、27“近现代全球年平均气温变化曲线”}
\qL{e45452}{e4545}{371}{6968}{①回忆读图的主要步骤。}
\qL{e45453}{e4545}{371}{7009}{②你能从图中发现什么？}
\qL{e45454}{e4545}{371}{7123}{③你能解释这种现象吗？}
\qLw{e454541}{e45454}{239}{7063}{通过回忆读图的主要步骤，掌握并巩固读图的方法：先读图例或者坐标，然后分析具体内容。培养学生发现问题和解决问题的能力。}
\qLw{e454542}{e45454}{239}{7124}{[小结]：近现代全球气候变化的原因有自然原因，但人为原因起到了加剧的作}
\qLw{e454543}{e45454}{239}{7184}{用（工业革命之后，大气中的温室气体的含量在不断增加，强烈吸收地面长波辐射，导致全球气温上升趋势加剧）}
% ===== background layer: page, curves, connectors =====
\begin{pgfonlayer}{bg}
\fill[pagebg] (0,0) rectangle (2560,-7247);
\draw[curve] (1250,-3223) .. controls (1250,-55) .. (T0.west);
\draw[curve] (1250,-3223) .. controls (1250,-483) .. (T1.west);
\draw[curve] (1250,-3223) .. controls (1250,-3492) .. (T3.west);
\draw[curve] (1250,-3223) .. controls (1250,-6392) .. (T5.west);
\draw[curve] (1248,-3223) .. controls (1248,-2761) .. (T2.east);
\draw[curve] (1248,-3223) .. controls (1248,-4617) .. (T4.east);
\draw[curve] (1248,-3223) .. controls (1248,-1830) .. (I.east);
\conns
\end{pgfonlayer}
% ===== watermarks =====
\foreach \wy [count=\i] in {520,1530,2522,3523,4520,5500,6512}{
  \node[wm] (wl\i) at (647,-\wy) {树图 {\wmserif shutu.cn}};
  \node[wm] (wr\i) at (1923,-\wy) {树图 {\wmserif shutu.cn}};
}
\end{tikzpicture}
\end{document}
